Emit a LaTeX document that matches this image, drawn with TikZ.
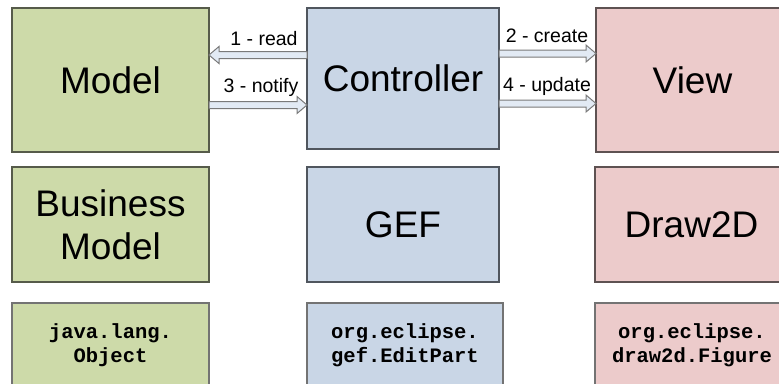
\documentclass[tikz,border=0pt]{standalone}
\usepackage{fontspec}
\setmainfont{Liberation Sans}
\newfontfamily\codefont{Liberation Mono}
\usetikzlibrary{calc}
\definecolor{mgreen}{HTML}{CDDAA9}
\definecolor{mblue}{HTML}{C9D6E6}
\definecolor{mpink}{HTML}{ECCBCB}
\definecolor{bgreen}{HTML}{565B4A}
\definecolor{bblue}{HTML}{50565E}
\definecolor{bpink}{HTML}{5E5252}
\definecolor{afill}{HTML}{E2EAF4}
\definecolor{aline}{HTML}{7A7A7A}
\tikzset{
  box/.style={draw, line width=1.2pt, outer sep=0pt, inner sep=0pt, anchor=north west, align=center},
  big/.style={font=\fontsize{37}{43}\selectfont},
  code/.style={font=\codefont\bfseries\fontsize{20.5}{24}\selectfont},
  green/.style={fill=mgreen, draw=bgreen},
  blue/.style={fill=mblue, draw=bblue},
  pink/.style={fill=mpink, draw=bpink},
  blockarr/.style={fill=afill, draw=aline, line width=1pt, line join=miter},
  lbl/.style={font=\fontsize{19.5}{22}\selectfont, anchor=base, inner sep=0pt}
}
\newcommand{\barrow}[4]{%
  \draw[blockarr] ($(#1 |- 0,#3)+(0,-3.5)$) -- ($(#2 |- 0,#3)+(#4,-3.5)$) -- ($(#2 |- 0,#3)+(#4,-8.5)$) -- (#2 |- 0,#3) -- ($(#2 |- 0,#3)+(#4,8.5)$) -- ($(#2 |- 0,#3)+(#4,3.5)$) -- ($(#1 |- 0,#3)+(0,3.5)$) -- cycle;}
\begin{document}
\begin{tikzpicture}[x=1pt,y=-1pt]
\clip (0,0) rectangle (779,383);
\fill[white] (0,0) rectangle (779,383);
% row 1
\node[box,green,big,minimum width=197pt,minimum height=144pt] (model) at (12,8) {Model};
\node[box,blue,big,minimum width=192pt,minimum height=141pt] (ctrl) at (307,8) {Controller};
\node[box,pink,big,minimum width=193pt,minimum height=144pt] (view) at (596,8) {View};
% row 2
\node[box,green,big,minimum width=197pt,minimum height=115pt] (bm) at (12,167) {Business\\Model};
\node[box,blue,big,minimum width=192pt,minimum height=115pt] (gef) at (307,167) {GEF};
\node[box,pink,big,minimum width=193pt,minimum height=115pt] (d2d) at (595,167) {Draw2D};
% row 3
\node[box,green,code,minimum width=197pt,minimum height=84pt,draw=gray!90!black] (obj) at (12,303) {java.lang.\\Object};
\node[box,blue,code,minimum width=196pt,minimum height=84pt,draw=gray!90!black] (ep) at (307,303) {org.eclipse.\\gef.EditPart};
\node[box,pink,code,minimum width=194pt,minimum height=84pt,draw=gray!90!black] (fig) at (595,303) {org.eclipse.\\draw2d.Figure};
% arrows
\barrow{ctrl.west}{model.east}{55}{10}
\barrow{model.east}{ctrl.west}{105}{-10}
\barrow{ctrl.east}{view.west}{53.5}{-10}
\barrow{ctrl.east}{view.west}{103.5}{-10}
% labels
\node[lbl] (l1) at (264,45) {1 - read};
\node[lbl] (l3) at (261,92) {3 - notify};
\node[lbl] (l2) at (547,42) {2 - create};
\node[lbl] (l4) at (547,91) {4 - update};
\end{tikzpicture}
\end{document}
